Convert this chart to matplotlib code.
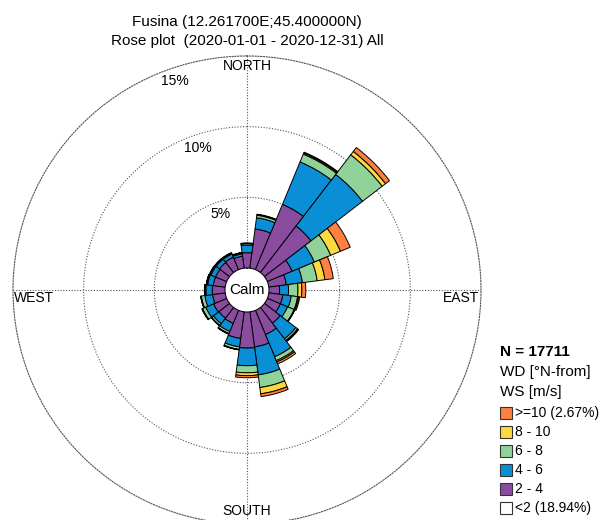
import matplotlib.pyplot as plt
import matplotlib.patches as mpatches
import numpy as np

plt.rcParams['font.family'] = ['Liberation Sans', 'DejaVu Sans']

# wind direction sectors (deg, N-from), 15 deg each
directions = np.arange(0, 360, 15)

# frequency (%) per speed class and sector
ws_2_4 = np.array([1.08, 2.8, 5.0, 4.15, 1.9, 1.25, 0.75, 1.0, 1.0, 1.4, 1.85, 2.5,
                   2.55, 1.9, 1.0, 0.95, 1.0, 0.9, 0.9, 0.85, 0.85, 0.9, 0.95, 0.85])
ws_4_6 = np.array([0.54, 0.8, 3.25, 4.6, 1.7, 1.15, 0.63, 0.6, 0.55, 1.4, 1.7, 2.0,
                   1.25, 0.6, 0.62, 0.5, 0.6, 0.55, 0.45, 0.4, 0.35, 0.3, 0.25, 0.17])
ws_6_8 = np.array([0.10, 0.18, 0.6, 1.75, 1.25, 1.05, 0.67, 0.45, 0.5, 0.15, 0.3, 0.9,
                   0.5, 0.18, 0.16, 0.15, 0.25, 0.25, 0.07, 0.07, 0.08, 0.07, 0.06, 0.06])
ws_8_10 = np.array([0.02, 0.04, 0.08, 0.3, 0.75, 0.55, 0.27, 0.07, 0.03, 0.05, 0.1, 0.45,
                    0.2, 0.02, 0.02, 0.02, 0.03, 0.03, 0.02, 0.02, 0.02, 0.02, 0.02, 0.02])
ws_10 = np.array([0.03, 0.03, 0.07, 0.35, 0.75, 0.6, 0.28, 0.08, 0.02, 0.05, 0.15, 0.2,
                  0.15, 0.02, 0.03, 0.02, 0.02, 0.02, 0.02, 0.01, 0.02, 0.01, 0.02, 0.02])

classes = [ws_2_4, ws_4_6, ws_6_8, ws_8_10, ws_10]
colors = ['#8a4c9e', '#0a8fd6', '#90d39a', '#fcd93f', '#ff8040']
legend_labels = ['>=10 (2.67%)', '8 - 10', '6 - 8', '4 - 6', '2 - 4', '<2 (18.94%)']
legend_colors = ['#ff8040', '#fcd93f', '#90d39a', '#0a8fd6', '#8a4c9e', 'white']

fig = plt.figure(figsize=(6, 5.2), dpi=100)
ax = fig.add_axes([13/600, -4/520, 468/600, 468/520], projection='polar')
ax.set_theta_zero_location('N')
ax.set_theta_direction(-1)
ax.set_rorigin(-1.56)
ax.set_ylim(0, 15)
ax.set_xticks([])
ax.set_yticks([])
ax.grid(False)
ax.spines['polar'].set_linestyle((0, (1, 1.5)))
ax.spines['polar'].set_linewidth(0.8)
ax.spines['polar'].set_edgecolor('#555555')

# rings and cross lines
t = np.linspace(0, 2*np.pi, 400)
for r in [5, 10]:
    ax.plot(t, np.full_like(t, r), color='#555555', lw=0.8, ls=(0, (1, 1.5)), zorder=1)
for a in [0, 90, 180, 270]:
    ax.plot([np.radians(a)]*2, [0, 15], color='#555555', lw=0.8, ls=(0, (1, 1.5)), zorder=1)

# stacked bars
theta = np.radians(directions)
bottom = np.zeros(len(directions))
for vals, c in zip(classes, colors):
    ax.bar(theta, vals, width=np.radians(15), bottom=bottom, color=c,
           edgecolor='black', linewidth=0.7, zorder=3)
    bottom = bottom + vals

# ring labels
for r in [5, 10, 15]:
    ax.text(np.radians(-19), r - 0.9, '%d%%' % r, ha='center', va='center', fontsize=10, zorder=4)

# calm circle
ax.add_artist(mpatches.Circle((0.5, 0.5), 20/468, transform=ax.transAxes,
                              facecolor='white', edgecolor='none', zorder=5))
ax.text(0.5, 0.5, 'Calm', transform=ax.transAxes, ha='center', va='center', fontsize=11, zorder=6)

# compass labels
ax.text(0.5, 0.978, 'NORTH', transform=ax.transAxes, ha='center', va='center', fontsize=10, clip_on=False)
ax.text(0.5, 0.027, 'SOUTH', transform=ax.transAxes, ha='center', va='center', fontsize=10, clip_on=False)
ax.text(0.003, 0.483, 'WEST', transform=ax.transAxes, ha='left', va='center', fontsize=10, clip_on=False)
ax.text(0.997, 0.483, 'EAST', transform=ax.transAxes, ha='right', va='center', fontsize=10, clip_on=False)

# title
fig.text(247/600, 1 - 22/520, 'Fusina (12.261700E;45.400000N)', ha='center', va='center', fontsize=11)
fig.text(247/600, 1 - 41/520, 'Rose plot  (2020-01-01 - 2020-12-31) All', ha='center', va='center', fontsize=11)

# legend
fig.text(500/600, 1 - 352/520, 'N = 17711', ha='left', va='center', fontsize=11, fontweight='bold')
fig.text(500/600, 1 - 372/520, 'WD [°N-from]', ha='left', va='center', fontsize=11)
fig.text(500/600, 1 - 392/520, 'WS [m/s]', ha='left', va='center', fontsize=11)
for i, (lab, c) in enumerate(zip(legend_labels, legend_colors)):
    y = 413 + i*19
    fig.patches.append(mpatches.Rectangle((500/600, 1 - (y + 6)/520), 12/600, 12/520,
                                          transform=fig.transFigure, facecolor=c,
                                          edgecolor='#333333', linewidth=0.8))
    fig.text(515/600, 1 - y/520, lab, ha='left', va='center', fontsize=10)

plt.savefig('out.png', dpi=100)
